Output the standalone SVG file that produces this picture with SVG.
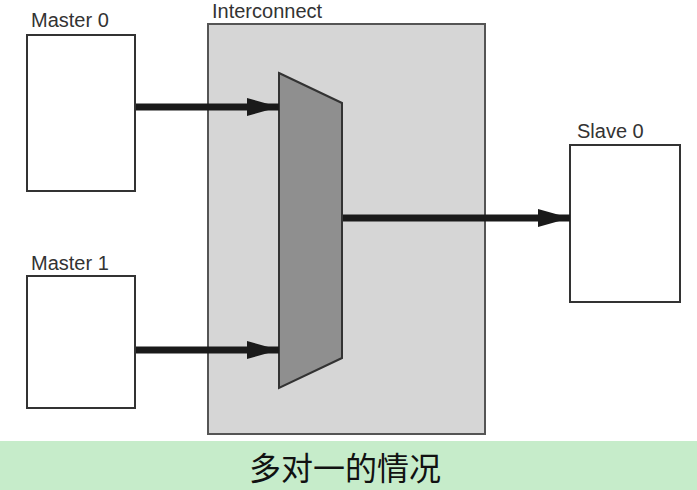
<svg xmlns="http://www.w3.org/2000/svg" width="697" height="490" viewBox="0 0 697 490">
<style>
.lbl{font-family:"Liberation Sans",Arial,sans-serif;font-size:20px;fill:#333}
.box{fill:#fff;stroke:#333;stroke-width:2}
.conn{stroke:#1a1a1a;stroke-width:7;fill:none}
</style>
<defs>
<marker id="ah" markerWidth="32" markerHeight="18" refX="32" refY="9" markerUnits="userSpaceOnUse" orient="auto">
<path d="M0,0 L32,9 L0,18 Z" fill="#1a1a1a"/>
</marker>
</defs>
<rect x="0" y="0" width="697" height="490" fill="#fff"/>
<g id="interconnect">
<rect x="208" y="24" width="277" height="410" fill="#d6d6d6" stroke="#555" stroke-width="2"/>
<text class="lbl" x="212" y="18">Interconnect</text>
</g>
<g id="mux">
<polygon points="279,73 342,103 342,358 279,388" fill="#8f8f8f" stroke="#333" stroke-width="2"/>
</g>
<g id="master0">
<rect class="box" x="27" y="35" width="108" height="156"/>
<text class="lbl" x="31" y="27">Master 0</text>
</g>
<g id="master1">
<rect class="box" x="27" y="276" width="108" height="132"/>
<text class="lbl" x="31" y="270">Master 1</text>
</g>
<g id="slave0">
<rect class="box" x="570" y="145" width="110" height="157"/>
<text class="lbl" x="577" y="138">Slave 0</text>
</g>
<g id="connectors">
<line class="conn" x1="136" y1="107" x2="279" y2="107" marker-end="url(#ah)"/>
<line class="conn" x1="136" y1="350" x2="279" y2="350" marker-end="url(#ah)"/>
<line class="conn" x1="343" y1="218" x2="570" y2="218" marker-end="url(#ah)"/>
</g>
<g id="caption">
<rect x="0" y="441" width="697" height="49" fill="#c6ecca"/>
<text x="345" y="480" text-anchor="middle" font-family="'Noto Sans CJK SC',sans-serif" font-size="32" fill="#111">多对一的情况</text>
</g>
</svg>
